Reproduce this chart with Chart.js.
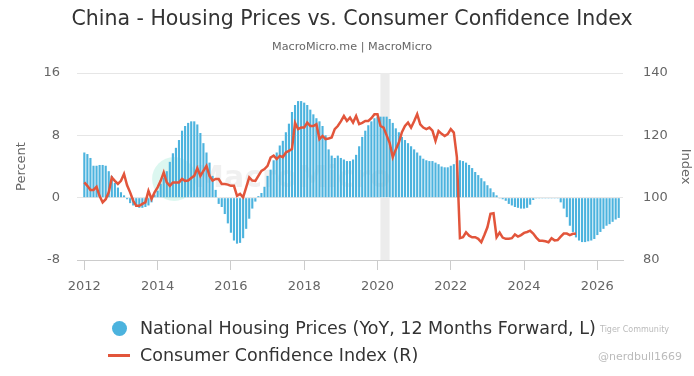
<!DOCTYPE html>
<html>
<head>
<meta charset="utf-8">
<script src="https://cdn.jsdelivr.net/npm/chart.js@4.4.1/dist/chart.umd.min.js"></script>
<style>
  html, body { margin: 0; padding: 0; background: #fff; }
  #wrap { position: relative; width: 694px; height: 376px; font-family: "DejaVu Sans", sans-serif; }
  #legend { position: absolute; left: 104px; top: 315px; color: #333; font-size: 17.5px; }
  .item { height: 27px; line-height: 27px; white-space: nowrap; }
  .sw { display: inline-block; width: 28px; height: 27px; vertical-align: top; position: relative; margin-right: 8px; }
  .dot { position: absolute; left: 8px; top: 6px; width: 15px; height: 15px; border-radius: 50%; }
  .bar { position: absolute; left: 4px; top: 12px; width: 22px; height: 3px; }
  #tiger { position: absolute; left: 600px; top: 325px; color: #bbb; font-size: 8px; }
  #nerd { position: absolute; left: 598px; top: 350px; color: #bbb; font-size: 11px; }
</style>
</head>
<body>
<div id="wrap">
  <canvas id="chart" width="694" height="376"></canvas>
  <div id="legend"></div>
  <div id="tiger">Tiger Community</div>
  <div id="nerd">@nerdbull1669</div>
</div>
<script>
// monthly values starting Jan 2012
const startYear = 2012;

// National housing prices, YoY %, 12 months forward (left axis)
const housingYoY = [
  5.8, 5.6, 5.1, 4.1, 4.1, 4.2, 4.2, 4.1, 3.4, 2.8, 1.9, 1.3,         // 2012
  0.7, 0.3, -0.2, -0.7, -1.0, -1.2, -1.3, -1.3, -1.2, -1.0, -0.6, 0.4, // 2013
  0.9, 1.8, 2.6, 3.4, 4.6, 5.7, 6.4, 7.4, 8.6, 9.2, 9.6, 9.8,         // 2014
  9.8, 9.4, 8.3, 7.0, 5.8, 4.5, 2.8, 1.0, -0.8, -1.2, -2.1, -3.3,     // 2015
  -4.5, -5.5, -5.9, -5.8, -5.2, -4.0, -2.7, -1.4, -0.5, 0.2, 0.6, 1.4, // 2016
  2.8, 3.6, 4.8, 5.8, 6.7, 7.3, 8.4, 9.5, 11.0, 11.9, 12.4, 12.4,     // 2017
  12.2, 11.9, 11.3, 10.7, 10.2, 9.8, 9.2, 8.0, 6.2, 5.4, 5.1, 5.4,    // 2018
  5.1, 4.9, 4.7, 4.7, 4.9, 5.5, 6.6, 7.8, 8.6, 9.3, 9.8, 10.2,        // 2019
  10.4, 10.4, 10.4, 10.4, 10.1, 9.6, 8.9, 8.4, 7.8, 7.4, 7.0, 6.6,    // 2020
  6.2, 5.8, 5.4, 5.0, 4.8, 4.7, 4.7, 4.5, 4.3, 4.0, 3.9, 3.9,         // 2021
  4.1, 4.3, 4.7, 4.8, 4.7, 4.5, 4.2, 3.8, 3.3, 2.9, 2.5, 2.1,         // 2022
  1.6, 1.2, 0.7, 0.3, -0.1, -0.2, -0.4, -0.8, -1.0, -1.2, -1.3, -1.4, // 2023
  -1.4, -1.3, -0.9, -0.3, -0.1, -0.1, -0.1, -0.1, -0.1, -0.1, -0.1, -0.1, // 2024
  -0.6, -1.4, -2.5, -3.6, -4.4, -5.1, -5.5, -5.7, -5.7, -5.6, -5.5, -5.3, // 2025
  -4.8, -4.4, -4.0, -3.6, -3.4, -3.1, -2.8, -2.6                      // 2026
];

// Consumer confidence index (right axis)
const consumerConfidence = [
  104.9, 103.8, 102.5, 102.5, 103.5, 100.5, 98.5, 99.5, 101.7, 106.5, 105.4, 104.4, // 2012
  105.4, 107.6, 104.0, 101.7, 99.0, 97.4, 97.4, 98.0, 98.5, 102.2, 99.6, 101.7,     // 2013
  103.3, 105.4, 108.1, 104.9, 103.8, 104.9, 104.9, 104.9, 106.0, 105.4, 105.5, 106.3, // 2014
  107.0, 109.5, 107.0, 108.6, 110.2, 107.0, 105.5, 106.0, 106.0, 104.4, 104.4, 104.2, // 2015
  103.8, 103.8, 100.6, 101.2, 100.1, 103.3, 106.5, 105.5, 105.4, 107.0, 108.6, 109.2, // 2016
  110.2, 112.9, 113.5, 112.4, 113.4, 113.0, 114.5, 115.0, 115.6, 124.0, 122.0, 122.5, // 2017
  122.5, 124.1, 123.0, 123.0, 123.6, 118.8, 119.8, 118.8, 119.0, 119.3, 122.0, 123.0, // 2018
  124.5, 126.2, 124.6, 125.7, 124.1, 126.2, 123.6, 124.0, 124.6, 124.6, 125.5, 126.8, // 2019
  126.8, 123.0, 122.5, 120.0, 117.5, 113.0, 115.5, 117.7, 121.0, 123.0, 124.1, 122.5, // 2020
  124.5, 126.8, 123.5, 122.5, 122.0, 122.5, 121.5, 118.2, 121.4, 120.5, 119.8, 120.4, // 2021
  122.0, 120.9, 113.0, 87.0, 87.3, 88.9, 87.8, 87.3, 87.3, 86.8, 85.7, 88.0,         // 2022
  90.5, 94.8, 95.0, 87.3, 88.8, 87.2, 86.8, 86.8, 87.0, 88.2, 87.5, 88.0,            // 2023
  88.7, 89.0, 89.4, 88.5, 87.2, 86.2, 86.2, 86.0, 85.7, 87.0, 86.3, 86.4,            // 2024
  87.5, 88.5, 88.5, 88.0, 88.4, 88.4                                                 // 2025
];

const xTicks = [2012, 2014, 2016, 2018, 2020, 2022, 2024, 2026];
const covidBand = [2020.08, 2020.33];

const labels = ['National Housing Prices (YoY, 12 Months Forward, L)', 'Consumer Confidence Index (R)'];
const barColor = '#4cb3de';
const lineColor = '#e2553b';

function toPoints(arr) {
  return arr.map((v, i) => ({ x: startYear + i / 12, y: v }));
}

// grey band + faint watermark
const backdrop = {
  id: 'backdrop',
  beforeDatasetsDraw(chart) {
    const { ctx, chartArea, scales } = chart;
    const x0 = scales.x.getPixelForValue(covidBand[0]);
    const x1 = scales.x.getPixelForValue(covidBand[1]);
    ctx.save();
    ctx.fillStyle = '#ececec';
    ctx.fillRect(x0, chartArea.top, x1 - x0, chartArea.bottom - chartArea.top);

    const cx = scales.x.getPixelForValue(2014.45);
    const cy = scales.y.getPixelForValue(2.4);
    ctx.fillStyle = 'rgba(140, 230, 205, 0.3)';
    ctx.beginPath();
    ctx.arc(cx, cy, 22, 0, Math.PI * 2);
    ctx.fill();
    ctx.fillStyle = 'rgba(170, 170, 170, 0.18)';
    ctx.font = 'bold 30px "DejaVu Sans"';
    ctx.textBaseline = 'middle';
    ctx.fillText('MacroMicro', cx + 20, cy);
    ctx.restore();
  }
};

const tickFont = { family: 'DejaVu Sans', size: 13 };

const ctx = document.getElementById('chart').getContext('2d');
new Chart(ctx, {
  type: 'bar',
  data: {
    datasets: [
      {
        type: 'line',
        label: labels[1],
        data: toPoints(consumerConfidence),
        yAxisID: 'y1',
        borderColor: lineColor,
        borderWidth: 2.5,
        pointRadius: 0,
        tension: 0,
        order: 0
      },
      {
        type: 'bar',
        label: labels[0],
        data: toPoints(housingYoY),
        yAxisID: 'y',
        backgroundColor: barColor,
        barPercentage: 0.7,
        categoryPercentage: 1.0,
        order: 1
      }
    ]
  },
  options: {
    responsive: false,
    animation: false,
    layout: { padding: { left: 10, right: 0, top: 0, bottom: 76 } },
    plugins: {
      legend: { display: false },
      tooltip: { enabled: false },
      title: {
        display: true,
        text: 'China - Housing Prices vs. Consumer Confidence Index',
        color: '#333',
        font: { family: 'DejaVu Sans', size: 20.5, weight: 'normal' },
        padding: { top: 7, bottom: 4 }
      },
      subtitle: {
        display: true,
        text: 'MacroMicro.me | MacroMicro',
        color: '#666',
        font: { family: 'DejaVu Sans', size: 11.2 },
        padding: { top: 5, bottom: 19 }
      }
    },
    scales: {
      x: {
        type: 'linear',
        min: 2011.8,
        max: 2026.7,
        offset: false,
        afterBuildTicks(scale) { scale.ticks = xTicks.map(v => ({ value: v })); },
        afterFit(scale) { scale.height = 40; },
        ticks: { color: '#666', font: tickFont, padding: 9, maxRotation: 0, callback: v => String(v) },
        grid: { offset: false, drawOnChartArea: false, drawTicks: true, tickLength: 10, color: '#ccc' },
        border: { display: true, color: '#ccc' }
      },
      y: {
        position: 'left',
        min: -8,
        max: 16,
        afterFit(scale) { scale.width = 67; },
        ticks: { stepSize: 8, color: '#666', padding: 17, font: tickFont },
        grid: { color: '#e6e6e6', drawTicks: false },
        border: { display: false },
        title: { display: true, text: 'Percent', color: '#666', font: { family: 'DejaVu Sans', size: 13 }, padding: { top: 4, bottom: 0 } }
      },
      y1: {
        position: 'right',
        min: 80,
        max: 140,
        afterFit(scale) { scale.width = 71; },
        ticks: { stepSize: 20, color: '#666', padding: 20, font: tickFont },
        grid: { display: false, drawTicks: false },
        border: { display: false },
        title: { display: true, text: 'Index', color: '#666', font: { family: 'DejaVu Sans', size: 13 }, padding: { top: 1, bottom: 0 } }
      }
    }
  },
  plugins: [backdrop]
});

// html legend, left aligned rows like the original
const legend = document.getElementById('legend');
legend.innerHTML =
  '<div class="item"><span class="sw"><span class="dot" style="background:' + barColor + '"></span></span>' + labels[0] + '</div>' +
  '<div class="item"><span class="sw"><span class="bar" style="background:' + lineColor + '"></span></span>' + labels[1] + '</div>';
</script>
</body>
</html>
